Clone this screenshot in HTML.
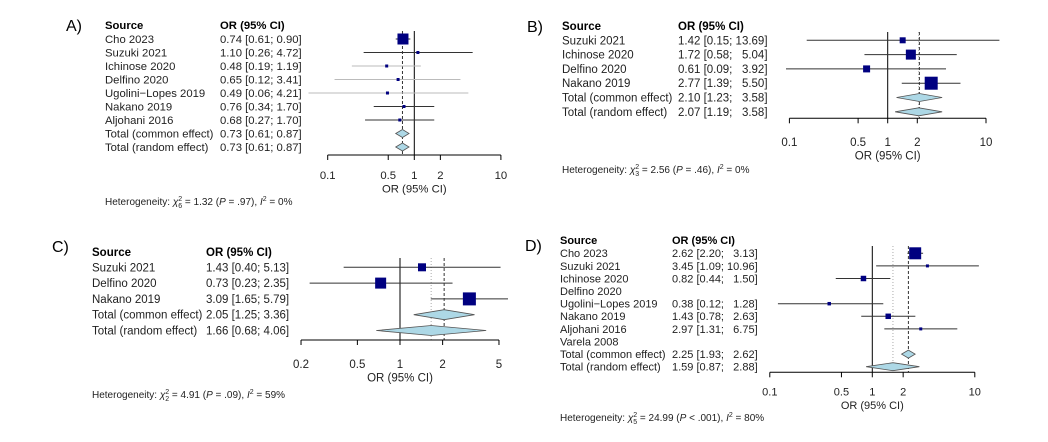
<!DOCTYPE html>
<html><head><meta charset="utf-8"><style>
html,body{margin:0;padding:0;background:#fff;}
svg{display:block;font-family:"Liberation Sans",Arial,sans-serif;}
</style></head><body>
<svg id="chart" width="1048" height="442" viewBox="0 0 1048 442" xmlns="http://www.w3.org/2000/svg"></svg>
<script>
// ---- Panel A data ----
const aNames = ["Cho 2023","Suzuki 2021","Ichinose 2020","Delfino 2020","Ugolini\u2212Lopes 2019","Nakano 2019","Aljohani 2016"];
const aOr = [0.74,1.10,0.48,0.65,0.49,0.76,0.68];
const aLo = [0.61,0.26,0.19,0.12,0.06,0.34,0.27];
const aHi = [0.90,4.72,1.19,3.41,4.21,1.70,1.70];
const aW  = [121,4,9,4,4,9,9];
const aGrey = [false,false,true,true,true,false,false];
const aTotals = [[0.73,0.61,0.87],[0.73,0.61,0.87]];
const aTicks = [0.1,0.5,1,2,10];
const aTickLabels = ["0.1","0.5","1","2","10"];
// ---- Panel B data ----
const bNames = ["Suzuki 2021","Ichinose 2020","Delfino 2020","Nakano 2019"];
const bOr = [1.42,1.72,0.61,2.77];
const bLo = [0.15,0.58,0.09,1.39];
const bHi = [13.69,5.04,3.92,5.50];
const bW  = [36,100,49,169];
const bTotals = [[2.10,1.23,3.58],[2.07,1.19,3.58]];
const bTicks = [0.1,0.5,1,2,10];
const bTickLabels = ["0.1","0.5","1","2","10"];
// ---- Panel C data ----
const cNames = ["Suzuki 2021","Delfino 2020","Nakano 2019"];
const cOr = [1.43,0.73,3.09];
const cLo = [0.40,0.23,1.65];
const cHi = [5.13,2.35,5.79];
const cW  = [64,121,169];
const cTotals = [[2.05,1.25,3.36],[1.66,0.68,4.06]];
const cTicks = [0.2,0.5,1,2,5];
const cTickLabels = ["0.2","0.5","1","2","5"];
// ---- Panel D data ----
const dNames = ["Cho 2023","Suzuki 2021","Ichinose 2020","Delfino 2020","Ugolini\u2212Lopes 2019","Nakano 2019","Aljohani 2016","Varela 2008"];
const dOr = [2.62,3.45,0.82,null,0.38,1.43,2.97,null];
const dLo = [2.20,1.09,0.44,null,0.12,0.78,1.31,null];
const dHi = [3.13,10.96,1.50,null,1.28,2.63,6.75,null];
const dW  = [144,5,30,0,12,30,5,0];
const dTotals = [[2.25,1.93,2.62],[1.59,0.87,2.88]];
const dTicks = [0.1,0.5,1,2,10];
const dTickLabels = ["0.1","0.5","1","2","10"];

const svg = document.getElementById('chart');
const NS = "http://www.w3.org/2000/svg";
function mk(tag, attrs, parent){
  const e = document.createElementNS(NS, tag);
  for (const k in attrs) e.setAttribute(k, attrs[k]);
  (parent||svg).appendChild(e);
  return e;
}
function fmt(or, lo, hi, pad){
  let h = hi.toFixed(2);
  if (pad && h.length < 5) h = "\u2007" + h;
  return or.toFixed(2) + " [" + lo.toFixed(2) + "; " + (pad ? " " : "") + h + "]";
}

function panel(cfg){
  const g = mk('g', {});
  
  
  const xScale = v => cfg.x1 + Math.log10(v) * cfg.dec;
  const rowY = i => cfg.y0 + i * cfg.dy;
  const fs = cfg.fs;
  const L = mk('text', {x:cfg.lx, y:cfg.ly, 'font-size':16, fill:'#000'}, g);
  L.textContent = cfg.letter;
  
  
  const h1 = mk('text', {x:cfg.sx, y:cfg.hy, 'font-size':fs, 'font-weight':'bold', fill:'#000'}, g);
  h1.textContent = 'Source';
  
  
  const h2 = mk('text', {x:cfg.ox, y:cfg.hy, 'font-size':fs, 'font-weight':'bold', fill:'#000'}, g);
  h2.textContent = 'OR (95% CI)';
  
  
  const n = cfg.names.length;
  const topY = cfg.hy + 2;
  const axisY = cfg.axisY;
  const v1 = mk('line', {x1:xScale(1), x2:xScale(1), y1:topY, y2:axisY, stroke:'#000', 'stroke-width':1}, g);
  
  
  const common = cfg.totals[0][0], random = cfg.totals[1][0];
  if (Math.abs(common - random) > 0.005) {
    const vr = mk('line', {x1:xScale(random), x2:xScale(random), y1:topY, y2:axisY, stroke:'#aaa', 'stroke-width':1, 'stroke-dasharray':'1,2'}, g);
    
    
  }
  const vc = mk('line', {x1:xScale(common), x2:xScale(common), y1:topY, y2:axisY, stroke:'#333', 'stroke-width':1, 'stroke-dasharray':'3,2'}, g);
  
  
  for (let i = 0; i < n; i++) {
    const y = rowY(i);
    const t = mk('text', {x:cfg.sx, y:y + fs*0.35, 'font-size':fs, fill:'#222'}, g);
    t.textContent = cfg.names[i];
    
    
    if (cfg.or[i] == null) continue;
    const v = mk('text', {x:cfg.ox, y:y + fs*0.35, 'font-size':fs, fill:'#222', 'xml:space':'preserve'}, g);
    v.textContent = fmt(cfg.or[i], cfg.lo[i], cfg.hi[i], cfg.pad);
    
    
    const lx1 = Math.max(xScale(cfg.lo[i]), cfg.xmin), lx2 = Math.min(xScale(cfg.hi[i]), cfg.xmax);
    const ci = mk('line', {x1:lx1, x2:lx2, y1:y, y2:y, stroke:(cfg.grey && cfg.grey[i]) ? '#bbb' : '#333', 'stroke-width':1}, g);
    
    
    const s = Math.max(3, Math.sqrt(cfg.w[i]));
    const sq = mk('rect', {x:xScale(cfg.or[i]) - s/2, y:y - s/2, width:s, height:s, fill:'#000080'}, g);
    
    
  }
  const tl = ['Total (common effect)', 'Total (random effect)'];
  for (let k = 0; k < 2; k++) {
    const y = rowY(n + k);
    const [e, lo, hi] = cfg.totals[k];
    const t = mk('text', {x:cfg.sx, y:y + fs*0.35, 'font-size':fs, fill:'#222'}, g);
    t.textContent = tl[k];
    
    
    const v = mk('text', {x:cfg.ox, y:y + fs*0.35, 'font-size':fs, fill:'#222', 'xml:space':'preserve'}, g);
    v.textContent = fmt(e, lo, hi, cfg.pad);
    
    
    const hh = cfg.dh;
    const d = mk('polygon', {points:`${xScale(lo)},${y} ${xScale(e)},${y-hh} ${xScale(hi)},${y} ${xScale(e)},${y+hh}`, fill:'#add8e6', stroke:'#555', 'stroke-width':0.8}, g);
    
    
  }
  const ax0 = xScale(cfg.ticks[0]), ax1 = xScale(cfg.ticks[cfg.ticks.length-1]);
  const ax = mk('line', {x1:ax0, x2:ax1, y1:axisY, y2:axisY, stroke:'#000', 'stroke-width':1}, g);
  
  
  cfg.ticks.forEach((tv, j) => {
    const x = xScale(tv);
    const tk = mk('line', {x1:x, x2:x, y1:axisY, y2:axisY + 5, stroke:'#000', 'stroke-width':1}, g);
    
    
    const tt = mk('text', {x:x, y:cfg.tickY, 'font-size':fs, 'text-anchor':'middle', fill:'#222'}, g);
    tt.textContent = cfg.tickLabels[j];
    
    
  });
  const at = mk('text', {x:xScale(1), y:cfg.tickY + 13.5, 'font-size':fs, 'text-anchor':'middle', fill:'#222'}, g);
  at.textContent = 'OR (95% CI)';
  
  
  const ht = mk('text', {x:cfg.sx, y:cfg.hetY, 'font-size':10, fill:'#222'}, g);
  
  
  ht.innerHTML = 'Heterogeneity: <tspan font-style="italic">χ</tspan><tspan font-size="7" dy="3">' + cfg.df + '</tspan><tspan font-size="7" dy="-7" dx="-4">2</tspan><tspan dy="4"> = ' + cfg.chi + ' (</tspan><tspan font-style="italic">P</tspan> ' + cfg.p + '), <tspan font-style="italic">I</tspan><tspan font-size="7" dy="-4">2</tspan><tspan dy="4"> = ' + cfg.i2 + '</tspan>';
}

panel({id:'panel-a', letter:'A)', lx:66, ly:31, sx:105, ox:220, hy:29, y0:39, dy:13.5, fs:11.3,
  names:aNames, or:aOr, lo:aLo, hi:aHi, w:aW, grey:aGrey, totals:aTotals, pad:false,
  x1:414.3, dec:86.6, xmin:307, xmax:500, axisY:155, tickY:179, ticks:aTicks, tickLabels:aTickLabels,
  dh:4, hetY:205, df:'6', chi:'1.32', p:'= .97', i2:'0%'});
panel({id:'panel-b', letter:'B)', lx:527, ly:32, sx:562, ox:678, hy:30, y0:40.3, dy:14.3, fs:11.5,
  names:bNames, or:bOr, lo:bLo, hi:bHi, w:bW, totals:bTotals, pad:true,
  x1:887.7, dec:98.3, xmin:786, xmax:1000, axisY:118.3, tickY:146, ticks:bTicks, tickLabels:bTickLabels,
  dh:4, hetY:173, df:'3', chi:'2.56', p:'= .46', i2:'0%'});
panel({id:'panel-c', letter:'C)', lx:52, ly:252, sx:92, ox:206, hy:256, y0:267.3, dy:15.8, fs:11.5,
  names:cNames, or:cOr, lo:cLo, hi:cHi, w:cW, totals:cTotals, pad:false,
  x1:400, dec:141.6, xmin:240, xmax:510, axisY:340, tickY:368, ticks:cTicks, tickLabels:cTickLabels,
  dh:5, hetY:398, df:'2', chi:'4.91', p:'= .09', i2:'59%'});
panel({id:'panel-d', letter:'D)', lx:525, ly:251, sx:560, ox:672, hy:244, y0:253.3, dy:12.6, fs:11,
  names:dNames, or:dOr, lo:dLo, hi:dHi, w:dW, totals:dTotals, pad:true,
  x1:872.3, dec:102.5, xmin:760, xmax:980, axisY:372.3, tickY:395.5, ticks:dTicks, tickLabels:dTickLabels,
  dh:4, hetY:421, df:'5', chi:'24.99', p:'< .001', i2:'80%'});
</script>
</body></html>
